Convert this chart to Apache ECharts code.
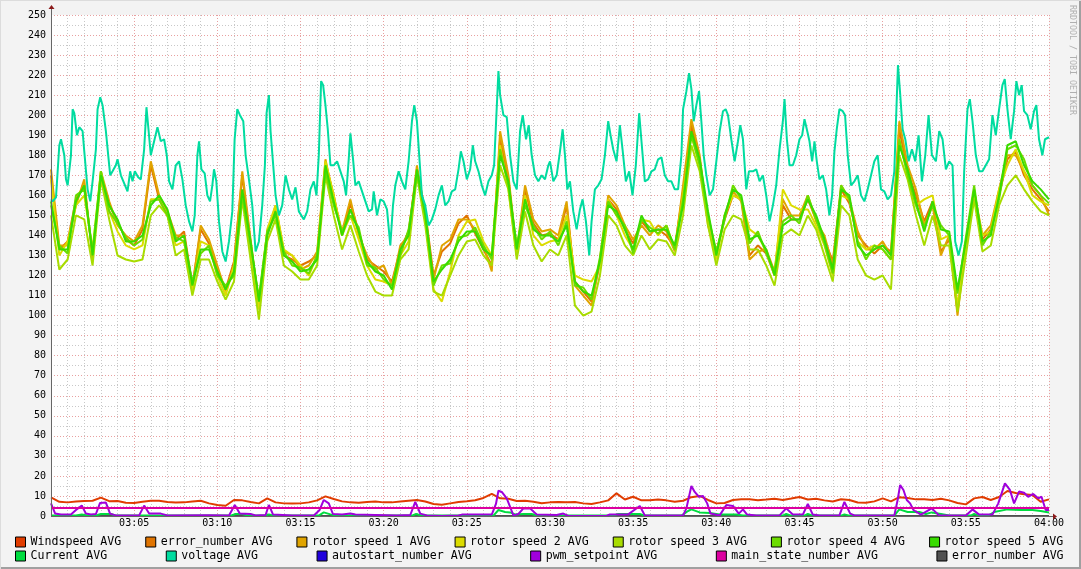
<!DOCTYPE html>
<html><head><meta charset="utf-8">
<script src="https://cdn.jsdelivr.net/npm/echarts@6/dist/echarts.min.js"></script>
<style>html,body{margin:0;padding:0;background:#f3f3f3;}#c{width:1081px;height:569px;}</style>
</head><body><div id="c"></div><script>
// minutes after 03:00, 30-second sampling for these series
const STEP = 0.5;
const timeLabels = ['03:00','03:05','03:10','03:15','03:20','03:25','03:30','03:35','03:40','03:45','03:50','03:55','04:00'];

const windspeed = [9.3,7.1,6.8,7.2,7.5,7.6,9.2,7.4,7.5,6.6, 6.5,7.1,7.6,7.6,7.0,6.7,6.8,7.2,7.6,6.3,
 5.5,5.1,8.0,7.8,7.0,6.3,8.8,6.8,6.3,6.2, 6.3,6.8,7.8,9.8,8.5,7.3,6.8,6.6,7.0,7.2,
 6.8,6.8,7.2,7.6,8.0,7.2,6.0,5.6,6.3,7.0, 7.4,7.9,9.0,11.0,8.8,8.6,7.5,7.6,7.1,6.4,
 6.8,7.0,6.8,7.0,6.3,6.0,6.8,7.8,11.3,8.2, 9.6,7.8,7.9,8.2,7.8,7.1,7.6,9.4,10.0,8.0,
 6.3,6.5,8.0,8.3,8.3,7.9,8.2,8.6,8.0,8.7, 9.5,8.2,8.6,7.8,7.2,8.4,8.0,6.7,6.6,7.3,
 8.8,7.3,9.4,9.0,8.3,8.3,8.0,8.6,7.8,6.5, 5.8,8.8,9.5,8.0,9.5,12.5,11.5,10.8,10.5,7.1, 8.3];

const errorNumber = [170,133,137,158,165,130,170,155,147,138, 135,143,175,158,150,138,142,115,143,136,
 123,113,127,170,136,107,142,153,130,128, 125,127,130,176,160,140,156,142,128,125,
 122,117,133,142,173,152,120,132,136,146, 150,141,133,125,188,168,130,163,146,140,
 141,138,155,117,112,107,126,158,153,143, 136,147,142,143,140,134,162,195,178,147,
 132,148,160,158,130,135,131,120,155,148, 148,158,148,138,127,163,156,140,135,131,
 135,132,193,172,160,147,157,132,138,102, 137,160,138,143,160,178,182,170,163,158, 152];

const rotor1 = [173,135,135,155,168,128,172,157,145,140, 137,145,177,160,152,140,140,113,145,138,
 125,112,125,172,138,105,140,155,132,130, 123,125,132,178,158,142,158,140,130,123,
 125,115,135,140,175,150,118,135,138,148, 148,143,135,122,192,170,132,165,148,142,
 143,140,157,115,110,105,128,160,155,145, 138,145,140,145,142,132,165,198,180,145,
 130,150,162,157,128,132,133,122,158,150, 150,160,147,140,125,165,158,142,133,133,
 137,130,197,175,163,145,155,130,140,100, 135,162,140,145,163,180,180,172,165,160, 150];

const rotor2 = [168,130,137,155,160,133,172,152,142,135, 133,135,158,158,150,135,137,113,137,135,
 120,110,125,160,133,103,143,155,133,130, 125,120,130,177,160,140,150,138,125,118,
 117,115,130,137,172,148,113,107,122,140, 147,148,137,130,185,163,130,160,140,135,
 137,138,150,120,118,117,125,158,150,140, 133,148,147,140,145,133,160,190,175,148,
 128,150,160,158,143,140,132,120,163,155, 153,153,145,135,120,160,158,137,133,135,
 133,128,188,170,155,158,160,138,140,105, 133,160,140,142,163,175,183,172,160,157, 155];

const rotor3 = [150,123,128,150,148,125,168,148,130,128, 127,128,150,155,150,130,133,110,128,128,
 117,108,117,158,128,98,137,148,125,122, 118,118,125,170,150,133,145,132,120,112,
 110,110,128,133,170,145,112,110,120,130, 137,138,130,125,175,163,128,152,135,127,
 133,130,140,105,100,102,120,150,145,135, 130,140,133,138,137,130,150,185,172,145,
 125,143,150,148,133,133,125,115,140,143, 140,150,143,130,117,155,150,128,120,118,
 120,113,180,168,150,135,150,135,135,102, 130,158,132,135,155,165,170,163,157,152, 150];

const rotor4 = [155,135,131,160,163,132,172,152,146,139, 135,138,157,158,150,139,137,117,131,135,
 120,115,120,160,135,109,142,150,132,125, 124,121,130,172,155,142,150,144,125,124,
 118,115,130,143,170,152,115,125,126,139, 140,144,135,128,183,165,135,155,145,138,
 142,135,147,115,114,108,129,157,150,145, 131,148,144,141,145,133,158,190,175,150,
 132,148,165,158,136,142,131,122,147,150, 146,160,148,136,121,165,158,137,128,135,
 133,128,188,170,155,144,155,145,140,111, 139,165,135,142,158,183,185,178,165,160, 156];

const rotor5 = [157,133,133,157,165,130,170,155,148,137, 137,140,155,160,153,137,140,115,133,133,
 122,113,122,163,137,107,140,152,130,127, 122,123,128,175,157,140,153,142,127,122,
 120,113,133,140,173,150,117,123,128,137, 142,142,133,130,180,167,133,158,143,140,
 140,137,145,117,112,110,127,155,152,143, 133,150,142,143,143,135,155,192,178,152,
 130,150,163,160,138,140,133,120,145,148, 148,158,150,138,123,163,160,135,130,133,
 135,130,185,173,157,142,157,143,142,113, 137,163,137,140,160,185,187,175,167,163, 158];

// [minute, value] samples
const current = [[0,0.3],[1.5,0.3],[1.85,0.8],[2.2,0.3],[2.8,0.5],[3.0,1.0],[3.6,1.0],[3.9,0.2],[5.5,0.2],[5.6,0.8],[5.9,0.2],
 [10.8,0.2],[11.1,1.0],[11.5,1.0],[11.8,0.2],[12.9,0.2],[13.1,0.8],[13.4,0.2],[16.1,0.2],[16.4,1.8],[16.8,0.8],[17.1,0.2],
 [21.7,0.2],[21.95,1.0],[22.3,0.2],[26.6,0.2],[26.9,3],[27.3,2],[27.6,1.8],[27.9,0.8],[28.4,1.0],[28.9,1.0],[29.2,0.2],
 [33.8,0.2],[34.1,1.0],[35.0,1.0],[35.4,1.0],[35.7,0.2],[37.9,0.2],[38.3,2.5],[38.5,3.3],[39.0,1.8],[39.6,1.5],[40.2,0.8],
 [41.2,0.8],[41.6,0.2],[44.0,0.2],[44.2,1.0],[44.5,0.2],[45.3,0.2],[45.5,1.0],[45.8,0.2],[47.5,0.2],[47.7,0.8],[48.0,0.2],
 [50.7,0.2],[51.0,3.3],[51.5,2.0],[52.2,2.0],[52.6,1.0],[52.95,1.8],[53.5,1.0],[54.0,0.2],[55.3,0.2],[55.5,1.0],[55.8,0.2],
 [56.4,0.5],[56.7,2.0],[57.5,3.3],[58.3,3.0],[59.0,3.0],[59.5,2.5],[60,1.8]];

const voltage = [[0.0,158],[0.1,157],[0.3,159],[0.5,185],[0.6,188],[0.8,180],[0.9,168],[1.0,165],[1.2,180],[1.3,203],[1.4,201],
 [1.56,190],[1.7,194],[1.9,192],[2.0,182],[2.2,163],[2.36,157],[2.5,167],[2.7,183],[2.8,203],[2.96,209],[3.1,205],[3.3,192],
 [3.44,180],[3.56,170],[3.7,172],[3.9,175],[4.0,178],[4.2,170],[4.4,166],[4.6,162],[4.76,172],[4.9,167],[5.04,172],[5.24,169],
 [5.4,168],[5.6,183],[5.74,204],[5.86,193],[6.0,180],[6.2,187],[6.4,194],[6.6,187],[6.8,188],[6.96,180],[7.1,167],[7.3,163],
 [7.5,175],[7.7,177],[7.9,168],[8.1,155],[8.3,147],[8.5,142],[8.64,150],[8.8,180],[8.9,187],[9.04,173],[9.24,171],[9.4,160],
 [9.56,157],[9.7,165],[9.8,173],[9.94,167],[10.1,147],[10.3,132],[10.5,127],[10.7,137],[10.9,152],[11.04,188],[11.2,203],
 [11.36,200],[11.56,197],[11.7,180],[11.9,168],[12.1,155],[12.3,132],[12.5,137],[12.7,155],[12.86,175],[12.96,201],[13.1,210],
 [13.2,192],[13.36,175],[13.5,160],[13.7,150],[13.9,155],[14.1,170],[14.3,163],[14.5,158],[14.7,164],[14.9,152],
 [15.0,152],[15.2,148],[15.4,152],[15.6,163],[15.8,167],[15.96,160],[16.1,180],[16.24,217],[16.36,215],[16.5,205],[16.64,193],
 [16.8,175],[17.0,175],[17.2,177],[17.4,172],[17.6,167],[17.74,160],[17.9,178],[18.0,191],[18.16,178],[18.3,165],[18.5,167],
 [18.7,162],[18.9,157],[19.1,152],[19.3,153],[19.4,162],[19.6,150],[19.8,158],[20.0,157],[20.2,153],[20.4,135],[20.56,155],
 [20.7,165],[20.9,172],[21.1,167],[21.3,163],[21.5,177],[21.7,197],[21.84,205],[22.0,197],[22.16,177],[22.3,160],[22.5,155],
 [22.7,145],[22.9,148],[23.1,153],[23.3,160],[23.5,165],[23.7,155],[23.9,157],[24.1,162],[24.3,163],[24.5,173],[24.64,182],
 [24.8,177],[25.0,168],[25.2,173],[25.36,185],[25.5,177],[25.7,172],[25.9,165],[26.1,160],[26.3,167],[26.5,170],[26.64,175],
 [26.76,197],[26.9,222],[27.0,210],[27.2,200],[27.4,199],[27.6,180],[27.8,167],[28.0,163],[28.2,192],[28.36,200],[28.56,188],
 [28.72,195],[28.9,180],[29.1,170],[29.3,167],[29.5,170],[29.7,168],[29.9,175],
 [30.0,177],[30.2,167],[30.4,170],[30.6,182],[30.76,193],[30.9,180],[31.04,163],[31.2,167],[31.4,152],[31.6,143],[31.8,153],
 [31.96,158],[32.16,147],[32.36,130],[32.5,147],[32.7,163],[32.9,165],[33.1,168],[33.3,180],[33.5,197],[33.64,190],[33.8,183],
 [34.0,177],[34.2,195],[34.36,183],[34.56,167],[34.76,172],[34.96,160],[35.16,175],[35.36,201],[35.5,187],[35.7,167],[35.9,168],
 [36.1,172],[36.3,173],[36.5,178],[36.7,179],[36.9,170],[37.1,167],[37.3,167],[37.5,163],[37.7,163],[37.9,180],[38.0,203],
 [38.2,212],[38.36,221],[38.5,213],[38.64,197],[38.8,205],[38.96,212],[39.1,197],[39.24,180],[39.4,170],[39.6,160],[39.8,163],
 [40.0,177],[40.2,192],[40.4,202],[40.56,203],[40.7,200],[40.9,188],[41.1,177],[41.3,187],[41.44,195],[41.6,188],[41.8,163],
 [41.96,172],[42.2,172],[42.4,173],[42.6,167],[42.8,170],[43.0,160],[43.2,147],[43.4,155],[43.6,165],[43.8,183],[44.0,197],
 [44.1,208],[44.24,188],[44.4,175],[44.6,175],[44.8,180],
 [45.0,188],[45.16,190],[45.3,198],[45.44,193],[45.6,187],[45.76,177],[45.9,187],[46.04,177],[46.2,168],[46.4,170],[46.6,163],
 [46.8,150],[46.96,160],[47.1,182],[47.24,193],[47.4,203],[47.6,202],[47.74,200],[47.9,180],[48.1,165],[48.3,167],[48.5,170],
 [48.7,160],[48.9,157],[49.1,163],[49.3,170],[49.5,177],[49.7,180],[49.9,163],[50.1,162],[50.3,158],[50.5,160],[50.7,172],
 [50.8,197],[50.92,225],[51.04,212],[51.2,193],[51.36,188],[51.56,177],[51.76,183],[51.96,177],[52.16,190],[52.36,167],
 [52.56,180],[52.76,200],[52.96,180],[53.2,177],[53.4,192],[53.6,188],[53.8,173],[54.0,177],[54.2,175],[54.36,137],[54.56,130],
 [54.76,137],[54.9,172],[55.1,203],[55.24,208],[55.4,197],[55.6,180],[55.8,172],[56.0,172],[56.2,175],[56.4,178],[56.6,200],
 [56.8,190],[57.0,203],[57.2,215],[57.34,218],[57.5,203],[57.7,188],[57.9,202],[58.04,217],[58.2,210],[58.36,215],[58.5,202],
 [58.7,200],[58.9,193],[59.1,202],[59.24,205],[59.4,188],[59.6,180],[59.76,188],[60.0,189]];

const autostartNumber = [[0,0],[60,0]];

const pwmSetpoint = [[0,6.3],[0.25,1.2],[0.6,0.7],[1.2,0.8],[1.5,3],[1.85,5.2],[2.1,1.2],[2.4,0.7],[2.7,1],[2.95,6.5],[3.3,6.7],
 [3.55,1.2],[3.9,0.3],[5.3,0.3],[5.6,5.2],[5.9,1.2],[6.6,1.2],[7,0.3],[9.5,0.4],[10.7,0.3],[11.05,5.5],[11.35,1.2],[12.0,1.0],
 [12.3,0.3],[12.9,0.5],[13.1,5.5],[13.35,0.7],[14.5,0.3],[15.8,0.3],[16.15,3],[16.4,8],[16.7,6.3],[16.95,1.0],[17.5,0.8],
 [18.0,1.2],[18.3,0.7],[19.5,0.5],[20.8,0.3],[21.6,0.5],[21.9,7],[22.2,1.2],[22.6,0.3],[23.5,0],[24.5,0.3],[24.7,0.7],[26.5,0.7],
 [26.75,6],[26.9,12.6],[27.1,12],[27.4,8.8],[27.8,0.3],[28.1,1],[28.4,3.8],[28.8,3.8],[29.2,0.7],[30.4,0.5],[30.8,1.2],[31.1,0],
 [33.4,0],[33.6,0.8],[34.7,0.8],[35.4,5],[35.7,0.3],[38.0,0.3],[38.2,3.8],[38.5,15],[38.7,12],[38.95,9.6],[39.2,10],[39.45,6.3],
 [39.65,1.2],[40.2,0.3],[40.6,5.5],[41.0,5],[41.35,1.2],[41.6,3.3],[41.85,0.7],[42.4,0.3],[43.8,0.3],[44.2,3.8],[44.6,0.7],
 [45.2,0.7],[45.5,6],[45.8,0.7],[46.2,0.3],[47.4,0.3],[47.7,7],[48.05,1.2],[48.3,0.3],[50.7,0.3],[50.9,8],[51.05,15.5],
 [51.25,13],[51.45,8],[51.65,6.3],[51.85,3],[52.3,0.7],[52.95,3.8],[53.4,0.3],[55.0,0.3],[55.4,3.3],[55.8,0.7],[56.6,0.7],
 [56.95,6.3],[57.35,16.3],[57.65,13],[57.9,6.3],[58.2,12.2],[58.5,11.6],[58.75,9.6],[59.05,11],[59.35,8.8],[59.55,9.6],
 [59.8,3],[60,3]];

const mainStateNumber = [[0,4],[60,4]];
const errorNumber2 = [[0,0],[60,0]];

const mk = arr => arr.map((v, i) => [i * STEP, v]);

const seriesDefs = [
  ['Windspeed AVG', '#e03c00', mk(windspeed)],
  ['error_number AVG', '#e07400', mk(errorNumber)],
  ['rotor speed 1 AVG', '#e0a400', mk(rotor1)],
  ['rotor speed 2 AVG', '#dcdc00', mk(rotor2)],
  ['rotor speed 3 AVG', '#a8dc00', mk(rotor3)],
  ['rotor speed 4 AVG', '#6cdc00', mk(rotor4)],
  ['rotor speed 5 AVG', '#38dc00', mk(rotor5)],
  ['Current AVG', '#00dc40', current],
  ['voltage AVG', '#00dca0', voltage],
  ['autostart_number AVG', '#2000dc', autostartNumber],
  ['pwm_setpoint AVG', '#a000dc', pwmSetpoint],
  ['main_state_number AVG', '#dc00a0', mainStateNumber],
  ['error_number AVG ', '#505050', errorNumber2]
];

const mono = 'DejaVu Sans Mono';
const chart = echarts.init(document.getElementById('c'), null, {renderer: 'canvas'});
const L = 51, T = 15, W = 998, H = 501;

chart.setOption({
  animation: false,
  backgroundColor: '#f3f3f3',
  grid: {left: L, top: T, width: W, height: H, show: true, backgroundColor: '#ffffff', borderWidth: 0},
  xAxis: {
    type: 'value', min: 0, max: 60, interval: 5,
    axisLine: {show: false}, axisTick: {show: false},
    axisLabel: {show: true, margin: 2, color: '#000', fontFamily: mono, fontSize: 10,
      showMinLabel: false, showMaxLabel: true,
      formatter: v => timeLabels[Math.round(v / 5)]},
    splitLine: {show: true, lineStyle: {color: '#e8a0a0', type: [1, 2], width: 1}},
    minorTick: {show: false, splitNumber: 5},
    minorSplitLine: {show: true, lineStyle: {color: '#c8c8c8', type: [1, 2], width: 1}}
  },
  yAxis: {
    type: 'value', min: 0, max: 250, interval: 10,
    axisLine: {show: false}, axisTick: {show: false},
    axisLabel: {margin: 5, color: '#000', fontFamily: mono, fontSize: 10},
    splitLine: {show: true, lineStyle: {color: '#e8a0a0', type: [1, 2], width: 1}},
    minorTick: {show: false, splitNumber: 2},
    minorSplitLine: {show: true, lineStyle: {color: '#c8c8c8', type: [1, 2], width: 1}}
  },
  legend: [
    {data: seriesDefs.slice(0, 7).map(d => d[0]), left: 15, top: 536, itemGap: 24,
     itemWidth: 10, itemHeight: 10, icon: 'rect', selectedMode: false, padding: 0,
     itemStyle: {borderColor: '#000', borderWidth: 1},
     textStyle: {fontFamily: mono, fontSize: 11.6, color: '#000'}},
    {data: seriesDefs.slice(7).map(d => d[0]), left: 15, top: 550, itemGap: 58.5,
     itemWidth: 10, itemHeight: 10, icon: 'rect', selectedMode: false, padding: 0,
     itemStyle: {borderColor: '#000', borderWidth: 1},
     textStyle: {fontFamily: mono, fontSize: 11.6, color: '#000'}}
  ],
  series: seriesDefs.map(([name, color, data]) => ({
    name, type: 'line', data, color, showSymbol: false, symbol: 'none',
    lineStyle: {width: 2, color}, itemStyle: {color}, emphasis: {disabled: true},
    z: (name === 'autostart_number AVG' || name === 'error_number AVG ') ? 1 : 2
  })),
  graphic: [
    {type: 'line', z: 100, shape: {x1: L + 0.5, y1: T - 6, x2: L + 0.5, y2: T + H}, style: {stroke: '#666', lineWidth: 1}},
    {type: 'line', z: 100, shape: {x1: L, y1: T + H + 0.5, x2: L + W + 5, y2: T + H + 0.5}, style: {stroke: '#666', lineWidth: 1}},
    {type: 'polygon', z: 101, shape: {points: [[L - 2.5, T - 6], [L + 3.5, T - 6], [L + 0.5, T - 10]]}, style: {fill: '#8b1a1a'}},
    {type: 'polygon', z: 101, shape: {points: [[L + W + 4, T + H - 2.5], [L + W + 4, T + H + 3.5], [L + W + 8, T + H + 0.5]]}, style: {fill: '#8b1a1a'}},
    {type: 'text', z: 100, x: 1072, y: 5, rotation: -Math.PI / 2,
     style: {text: 'RRDTOOL / TOBI OETIKER', fill: '#b0b0b0', font: '8.3px "DejaVu Sans Mono"', textAlign: 'left', textVerticalAlign: 'middle'}},
    {type: 'rect', z: 100, shape: {x: 0, y: 567, width: 1081, height: 2}, style: {fill: '#a0a0a0'}},
    {type: 'rect', z: 100, shape: {x: 1079, y: 0, width: 2, height: 569}, style: {fill: '#a0a0a0'}},
    {type: 'rect', z: 100, shape: {x: 0, y: 0, width: 1081, height: 1}, style: {fill: '#dcdcdc'}},
    {type: 'rect', z: 100, shape: {x: 0, y: 0, width: 1, height: 569}, style: {fill: '#dcdcdc'}}
  ]
});
</script></body></html>
